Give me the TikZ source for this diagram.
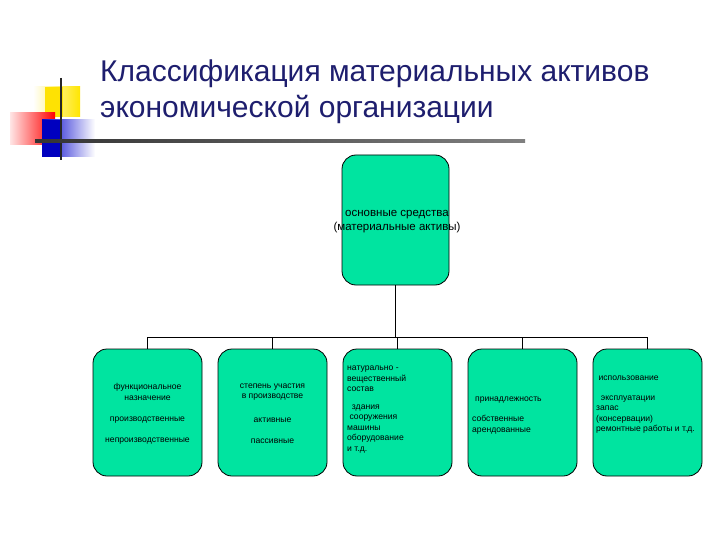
\documentclass[tikz,border=0pt]{standalone}
\usepackage{fontspec}
\setmainfont{Liberation Sans}
\begin{document}
\begin{tikzpicture}[x=1pt,y=-1pt,
  box/.style={draw=black,fill=teal0,rounded corners=14pt,line width=0.8pt},
  sm/.style={font=\fontsize{8.6}{10.5}\selectfont,align=center,inner sep=0pt}]
\definecolor{teal0}{RGB}{0,228,160}
\definecolor{ttl}{RGB}{30,30,110}
\useasboundingbox (0,0) rectangle (720,540);
\fill[white] (0,0) rectangle (720,540);
% decoration
\shade[left color=white,right color=yellow!80!orange,shading angle=90] (33,87) rectangle (80,117);
\fill[yellow!85!orange] (45,87) rectangle (63,117);
\shade[left color=red!10,right color=red] (10,113) rectangle (55,145);
\shade[left color=blue!80!black,right color=white] (42,120) rectangle (95,157);
\fill[blue!75!black] (42,120) rectangle (62,157);
\draw[line width=1.5pt,black!85] (61,78) -- (61,160);
\shade[left color=black!80,right color=black!50] (35,140) rectangle (525,142.5);
\node[anchor=west,text=ttl,font=\fontsize{30}{34}\selectfont,inner sep=0pt] (t1) at (100,74) {Классификация материальных активов};
\node[anchor=west,text=ttl,font=\fontsize{30}{34}\selectfont,inner sep=0pt] (t2) at (100,109) {экономической организации};
% top box
\node[box,minimum width=107pt,minimum height=130pt] (top) at (395.5,220) {};
\node[sm,font=\fontsize{11.5}{14}\selectfont] (tt) at (397,222) {основные средства\\(материальные активы)};
% level boxes
\foreach \n/\x in {a/147.5,b/272.5,c/397.5,d/522.5,e/647.5}{
  \node[box,minimum width=109pt,minimum height=127pt] (\n) at (\x,412.5) {};
}
\coordinate (bus) at (395.5,337);
\draw[line width=1pt] (top.south) -- (bus);
\draw[line width=1pt] (a.north |- bus) -- (e.north |- bus);
\foreach \n in {a,b,c,d,e}{\draw[line width=1pt] (\n.north |- bus) -- (\n.north);}
\node[sm] at (147.5,392) {функциональное\\назначение};
\node[sm] at (147.5,420) {производственные};
\node[sm] at (147.5,441) {непроизводственные};
\node[sm] at (272.5,392) {степень участия\\в производстве};
\node[sm] at (272.5,420) {активные};
\node[sm] at (272.5,441) {пассивные};
\node[sm,align=left,anchor=north west] at (347,366) {натурально -\\вещественный\\состав\\[7pt]\ \ здания\\\ сооружения\\машины\\оборудование\\и т.д.};
\node[sm,anchor=west] at (475,400) {принадлежность};
\node[sm,align=left,anchor=north west] at (472,415) {собственные\\арендованные};
\node[sm,align=left,anchor=north west] at (596,376) {\ использование\\[9pt]\ \ эксплуатации\\запас\\(консервации)\\ремонтные работы и т.д.};
\end{tikzpicture}
\end{document}
